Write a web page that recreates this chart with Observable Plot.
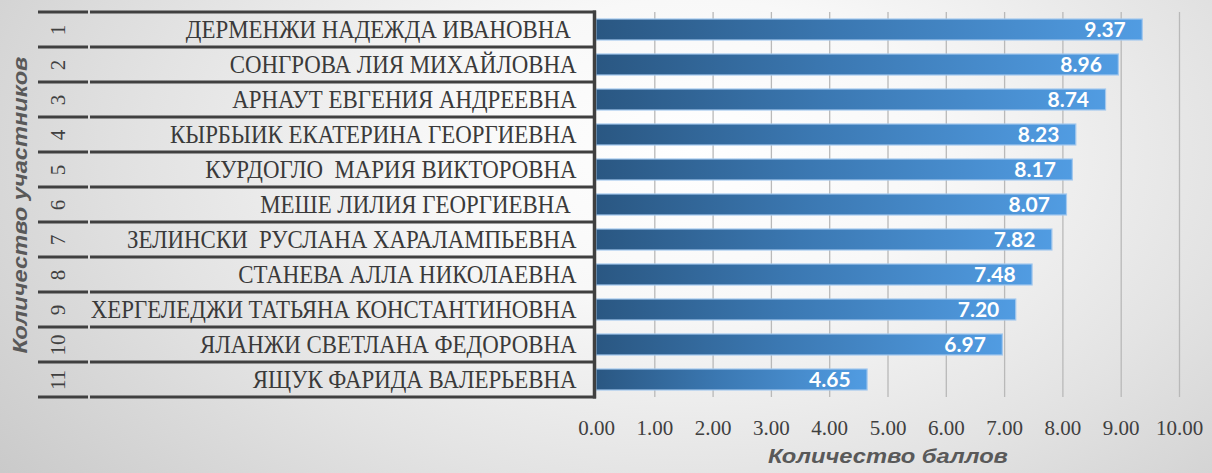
<!DOCTYPE html>
<html>
<head>
<meta charset="utf-8">
<script src="https://cdn.jsdelivr.net/npm/d3@7"></script>
<script src="https://cdn.jsdelivr.net/npm/@observablehq/plot@0.6"></script>
<style>
html, body { margin: 0; padding: 0; }
#chart {
  width: 1212px; height: 473px; overflow: hidden;
  background: radial-gradient(ellipse 72% 115% at 57% 32%, #ffffff 0%, #f8f8f8 28%, #e3e3e3 62%, #c9c9c9 100%);
}
svg text { white-space: pre; }
</style>
</head>
<body>
<div id="chart"></div>
<script>
const ranks = ["1", "2", "3", "4", "5", "6", "7", "8", "9", "10", "11"];
const names = [
  "ДЕРМЕНЖИ НАДЕЖДА ИВАНОВНА ",
  "СОНГРОВА ЛИЯ МИХАЙЛОВНА",
  "АРНАУТ ЕВГЕНИЯ АНДРЕЕВНА",
  "КЫРБЫИК ЕКАТЕРИНА ГЕОРГИЕВНА",
  "КУРДОГЛО  МАРИЯ ВИКТОРОВНА",
  "МЕШЕ ЛИЛИЯ ГЕОРГИЕВНА ",
  "ЗЕЛИНСКИ  РУСЛАНА ХАРАЛАМПЬЕВНА",
  "СТАНЕВА АЛЛА НИКОЛАЕВНА",
  "ХЕРГЕЛЕДЖИ ТАТЬЯНА КОНСТАНТИНОВНА",
  "ЯЛАНЖИ СВЕТЛАНА ФЕДОРОВНА",
  "ЯЩУК ФАРИДА ВАЛЕРЬЕВНА"
];
const scores = [9.37, 8.96, 8.74, 8.23, 8.17, 8.07, 7.82, 7.48, 7.20, 6.97, 4.65];
const xTicks = [0, 1, 2, 3, 4, 5, 6, 7, 8, 9, 10];
const xTitle = "Количество баллов";
const yTitle = "Количество участников";

const data = names.map((name, i) => ({rank: ranks[i], name, score: scores[i]}));

const serif = "'Liberation Serif', 'DejaVu Serif', serif";
const sans = "'Liberation Sans', 'DejaVu Sans', sans-serif";

const chart = Plot.plot({
  width: 1212,
  height: 473,
  marginLeft: 596,
  marginRight: 33,
  marginTop: 12,
  marginBottom: 76,
  style: {background: "transparent", fontFamily: serif, fontSize: "21px", color: "#404040", overflow: "visible"},
  x: {domain: [0, 10], ticks: xTicks, tickFormat: d => d.toFixed(2), tickSize: 0, tickPadding: 23, label: null},
  y: {domain: names, paddingInner: 0.4, paddingOuter: 0.2, axis: null},
  marks: [
    Plot.ruleX(xTicks.slice(1), {stroke: "#b9b9b9", strokeWidth: 1.3}),
    Plot.barX(data, {x: "score", y: "name", fill: "url(#barGrad)", stroke: "#a3c8ee", strokeWidth: 1.2}),
    Plot.text(data, {x: "score", y: "name", text: d => d.score.toFixed(2), textAnchor: "end", dx: -17,
      fill: "white", fontFamily: "Lato", fontWeight: "bold", fontSize: 21}),
    Plot.text(data, {y: "name", text: "name", frameAnchor: "left", textAnchor: "end", dx: -20,
      fill: "#3a3a3a", fontFamily: serif, fontSize: 25}),
    Plot.text(data, {y: "name", text: "rank", frameAnchor: "left", textAnchor: "middle", dx: -538, rotate: -90,
      fill: "#404040", fontFamily: serif, fontSize: 21}),
    Plot.text([xTitle], {text: d => d, frameAnchor: "bottom", textAnchor: "middle", dy: 65,
      fill: "#595959", fontFamily: sans, fontWeight: "bold", fontStyle: "italic", fontSize: 21}),
    Plot.text([yTitle], {text: d => d, frameAnchor: "left", textAnchor: "middle", dx: -576, rotate: -90,
      fill: "#595959", fontFamily: sans, fontWeight: "bold", fontStyle: "italic", fontSize: 21})
  ]
});

document.getElementById("chart").appendChild(chart);
const svg = d3.select(chart);

// fit text groups horizontally to the widths seen in the reference
function fitWidth(groupIndex, target) {
  const g = svg.selectAll('g[aria-label="text"]').nodes()[groupIndex];
  const sel = d3.select(g).selectAll("text");
  let w = 0;
  sel.each(function () { w = Math.max(w, this.getComputedTextLength()); });
  if (!w) return;
  const f = target / w;
  sel.attr("transform", function () { return this.getAttribute("transform") + ` scale(${f},1)`; });
}
fitWidth(1, 486);   // longest name
fitWidth(3, 240);   // x title
fitWidth(4, 297);   // y title

// bar gradient
const defs = svg.insert("defs", ":first-child");
const lg = defs.append("linearGradient").attr("id", "barGrad")
  .attr("x1", "0").attr("x2", "1").attr("y1", "0").attr("y2", "0");
lg.append("stop").attr("offset", "0%").attr("stop-color", "#2a5782");
lg.append("stop").attr("offset", "45%").attr("stop-color", "#3b78b2");
lg.append("stop").attr("offset", "100%").attr("stop-color", "#519ce2");

// table lines from the y band scale
const sy = chart.scale("y");
const sx = chart.scale("x");
const off = (sy.step - sy.bandwidth) / 2;
const tops = names.map(n => sy.apply(n) - off);
tops.push(sy.apply(names[names.length - 1]) + sy.bandwidth + off);
const x0 = sx.range[0];
const tg = svg.append("g").attr("class", "table");
tg.selectAll("line.a").data(tops).join("line").attr("class", "a")
  .attr("x1", 38).attr("x2", 88).attr("y1", d => d).attr("y2", d => d)
  .attr("stroke", "#404040").attr("stroke-width", 3);
tg.selectAll("line.b").data(tops).join("line").attr("class", "b")
  .attr("x1", 90).attr("x2", x0).attr("y1", d => d).attr("y2", d => d)
  .attr("stroke", "#404040").attr("stroke-width", 3);
tg.append("line")
  .attr("x1", x0 - 1.5).attr("x2", x0 - 1.5)
  .attr("y1", tops[0] - 1.5).attr("y2", tops[tops.length - 1] + 1.5)
  .attr("stroke", "#404040").attr("stroke-width", 3.5);
</script>
</body>
</html>
